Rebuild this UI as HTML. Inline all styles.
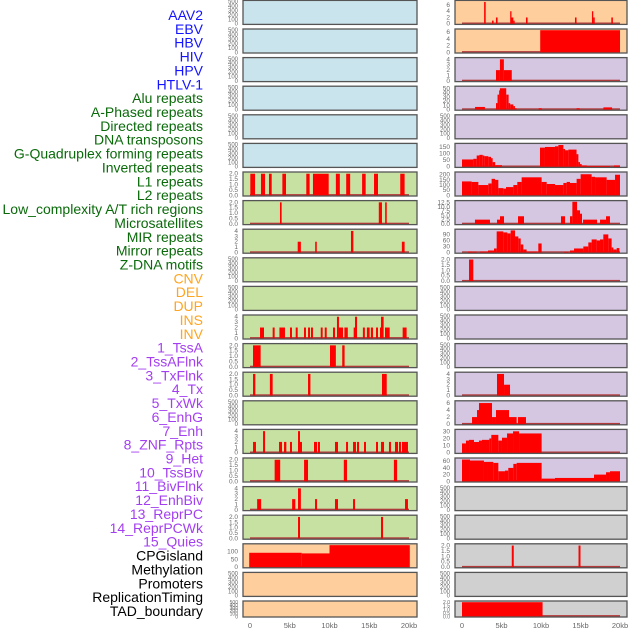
<!DOCTYPE html>
<html><head><meta charset="utf-8"><style>
html,body{margin:0;padding:0;background:#fff;}
svg{display:block;font-family:"Liberation Sans",sans-serif;}
</style></head><body>
<svg id="chart" width="630" height="630" viewBox="0 0 630 630" xmlns="http://www.w3.org/2000/svg">
<g id="labels"></g>
<g id="panels"></g>
<g id="xaxes"></g>
</svg>
<script>
// ---- data (segments: [startKb, endKb, value]) ----
const trackLabels = ["AAV2","EBV","HBV","HIV","HPV","HTLV-1","Alu repeats","A-Phased repeats","Directed repeats","DNA transposons","G-Quadruplex forming repeats","Inverted repeats","L1 repeats","L2 repeats","Low_complexity A/T rich regions","Microsatellites","MIR repeats","Mirror repeats","Z-DNA motifs","CNV","DEL","DUP","INS","INV","1_TssA","2_TssAFlnk","3_TxFlnk","4_Tx","5_TxWk","6_EnhG","7_Enh","8_ZNF_Rpts","9_Het","10_TssBiv","11_BivFlnk","12_EnhBiv","13_ReprPC","14_ReprPCWk","15_Quies","CPGisland","Methylation","Promoters","ReplicationTiming","TAD_boundary"];
const xTickValues = [0,5,10,15,20];
const xTickLabels = ["0","5kb","10kb","15kb","20kb"];
const emptyTicks = [0,100,200,300,400,500];
const ticks2 = [0,0.5,1,1.5,2];
const ticks4 = [0,1,2,3,4];

// left column data
const aluRepeats = [[0.04,0.63,2],[1.38,1.89,2],[2.39,2.73,2],[4.07,4.53,2],[7.08,7.5,2],[7.92,9.9,2],[10.8,11.3,2],[12.1,12.6,2],[14.1,14.55,2],[15.6,16.1,2],[18.9,19.45,2]];
const phasedRepeats = [[3.77,3.98,2],[16.2,16.6,2],[17.0,17.2,2]];
const directedRepeats = [[6.0,6.4,2],[8.2,8.4,2],[12.7,13.0,4],[19.1,19.45,2]];
const invertedRepeats = [[1.26,1.76,2],[2.85,3.1,2],[3.7,4.4,2],[5.03,5.28,2],[5.75,6.0,2],[6.79,7.04,2],[7.3,7.55,2],[7.67,7.92,2],[8.9,9.14,2],[9.4,9.65,2],[10.44,10.69,2],[10.94,11.19,4],[11.19,11.7,2],[11.87,12.3,2],[13.04,13.29,2],[13.21,13.46,4],[14.2,14.45,2],[14.7,15.05,2],[15.2,15.47,2],[15.85,16.1,2],[16.35,16.6,2],[16.48,16.81,4],[16.98,17.57,2],[19.2,19.7,2]];
const l1Repeats = [[0.38,1.34,2],[10.06,10.8,2],[11.6,11.9,2]];
const l2Repeats = [[0.38,0.67,2],[2.5,2.85,2],[7.3,7.6,2],[16.6,17.2,2]];
const microsatellites = [[0.38,0.75,2],[1.64,1.89,4],[3.65,4.03,2],[4.28,4.57,2],[5.03,5.28,2],[6.04,6.54,2],[6.04,6.29,4],[8.05,8.43,2],[8.55,8.8,2],[10.69,11.07,2],[12.08,12.33,2],[12.96,13.33,2],[13.46,13.71,2],[14.34,14.59,2],[15.85,16.1,2],[16.48,16.86,2],[17.48,17.73,2],[18.24,18.62,2],[18.74,18.99,2],[19.12,19.87,2]];
const mirRepeats = [[3.1,3.8,2],[6.8,7.3,2],[11.8,12.2,2],[18.1,18.5,2]];
const mirrorRepeats = [[0.9,1.4,2],[5.3,5.7,2],[6.04,6.4,4],[8.18,8.43,2],[10.69,11.07,2],[12.96,13.21,2],[19.5,19.87,2]];
const zdnaMotifs = [[6.04,6.29,2],[16.48,16.73,2]];
const cnvTrack = [[-0.1,6.5,92],[6.5,10.0,88],[10.0,20.1,141]];
// right column data
const insTrack = [[2.8,3.0,7],[3.8,4.0,1],[4.3,4.5,2],[6.1,6.25,4],[6.25,6.5,2],[6.5,6.65,1],[8.1,8.3,2],[14.3,14.5,2],[16.45,16.6,4],[16.6,16.8,2],[18.9,19.1,2]];
const invTrack = [[9.9,20.0,6.6]];
const tssA = [[4.3,4.8,2],[4.8,5.3,4],[5.3,6.3,2]];
const tssAFlnk = [[1.65,2.9,6],[4.3,4.5,15],[4.5,4.7,35],[4.7,4.8,45],[4.8,5.6,50],[5.6,5.9,35],[5.9,6.1,15],[6.1,6.5,12],[6.5,6.7,8],[6.7,6.9,3],[9.7,10.1,3],[14.5,14.9,3],[17.9,19.0,5]];
const txTrack = [[0,1.43,55],[1.43,1.86,60],[1.86,2.2,85],[2.2,2.62,90],[2.62,2.83,85],[2.83,3.33,80],[3.33,3.67,75],[3.67,3.88,65],[3.88,4.2,35],[4.2,5.06,12],[9.87,10.5,145],[10.5,11.77,150],[11.77,12.2,155],[12.2,12.83,165],[12.83,13.04,135],[13.04,13.46,125],[13.46,14.5,130],[14.5,14.73,95],[14.73,14.94,35],[14.94,15.15,20],[15.15,15.8,10],[15.8,18.73,5],[19.24,20,10]];
const txWk = [[0,1.22,135],[1.22,2.07,130],[2.07,3.33,100],[3.33,3.75,115],[3.75,4.18,160],[4.18,4.6,150],[4.6,5.23,70],[5.23,5.57,65],[5.57,6.5,80],[6.5,7.0,100],[7.0,7.55,130],[7.55,10.08,175],[10.08,10.72,130],[10.72,11.77,110],[11.77,12.83,100],[12.83,13.25,120],[13.25,13.67,130],[13.67,14.51,120],[14.51,15.02,160],[15.02,16.41,205],[16.41,16.84,180],[16.84,18.31,175],[18.31,19.37,150],[19.37,20,200]];
const enhG = [[1.64,3.54,2.5],[4.43,4.81,2.5],[4.81,5.32,4.5],[7.09,7.85,4.5],[12.53,13.04,4.5],[13.67,13.97,4.5],[13.97,14.56,13],[14.56,14.94,8],[14.94,15.19,6],[15.32,17.09,2.5],[17.47,18.23,2.5],[18.23,18.73,4.5]];
const enhTrack = [[0.76,1.27,5],[1.27,1.86,4],[2.28,3.29,5],[3.29,4.05,10],[4.05,4.39,20],[4.39,5.23,105],[5.23,5.74,100],[5.74,6.16,95],[6.16,6.71,110],[6.71,7.13,80],[7.13,7.43,70],[7.43,7.76,40],[7.76,8.18,15],[8.18,9.54,5],[9.66,10.08,45],[12.91,13.46,3],[13.67,14.18,10],[14.18,15.36,20],[15.36,15.99,30],[15.99,16.41,50],[16.41,17.05,65],[17.05,17.47,60],[17.47,17.89,65],[17.89,18.52,90],[18.52,18.94,70],[18.94,19.16,25],[19.16,19.58,15],[19.58,19.92,22]];
const znfRpts = [[0.89,1.43,2]];
const enhBiv = [[4.43,5.32,4],[5.32,6.08,2]];
const reprPC = [[1.27,1.9,2],[1.9,2.15,4],[2.15,3.8,6],[3.8,4.3,2],[4.3,5.95,4],[5.95,6.92,2],[7.09,8.1,2]];
const reprPCWk = [[0,0.5,13],[0.5,0.89,17],[0.89,1.52,18],[1.52,2.15,15],[2.15,2.53,17],[2.53,3.46,18],[3.46,3.71,20],[3.71,4.6,25],[4.6,5.06,17],[5.06,5.7,21],[5.7,6.46,27],[6.46,7.22,30],[7.22,10.08,27]];
const quies = [[0,1.01,65],[1.01,2.78,62],[2.78,3.29,58],[3.29,3.96,58],[3.96,4.6,55],[4.6,5.44,30],[5.44,5.86,32],[5.86,6.5,40],[6.5,6.92,52],[6.92,10.08,55],[10.08,11.77,8],[11.77,16.71,10],[16.71,18.23,20],[18.23,18.73,27],[18.73,20,30]];
const promoters = [[6.3,6.55,2],[14.75,15.0,2]];
const tadBoundary = [[0,10.2,2]];

// ---- layout ----
const COLS = [{x0:243,x1:417,d0:250,d1:409},{x0:455,x1:627,d0:462,d1:620}];
const ROW0 = 0.4, PITCH = 28.6;
const BG = {blue:"#c9e4ec",green:"#c7e1a2",orange:"#fecf9d",purple:"#d5c6e2",grey:"#d0d0d0"};
const LCOL = {blue:"#1414ff",green:"#0a6a0a",orange:"#ffa51f",purple:"#a33ff0",black:"#000"};

const leftPanels = [
 {id:"aav2",bg:"blue",data:null},{id:"ebv",bg:"blue",data:null},{id:"hbv",bg:"blue",data:null},
 {id:"hiv",bg:"blue",data:null},{id:"hpv",bg:"blue",data:null},{id:"htlv-1",bg:"blue",data:null},
 {id:"alu-repeats",bg:"green",data:aluRepeats,yMax:2.05,ticks:ticks2,fmt:1},
 {id:"a-phased-repeats",bg:"green",data:phasedRepeats,yMax:2.05,ticks:ticks2,fmt:1},
 {id:"directed-repeats",bg:"green",data:directedRepeats,yMax:4.1,ticks:ticks4,fmt:0},
 {id:"dna-transposons",bg:"green",data:null},{id:"g-quadruplex-repeats",bg:"green",data:null},
 {id:"inverted-repeats",bg:"green",data:invertedRepeats,yMax:4.1,ticks:ticks4,fmt:0},
 {id:"l1-repeats",bg:"green",data:l1Repeats,yMax:2.05,ticks:ticks2,fmt:1},
 {id:"l2-repeats",bg:"green",data:l2Repeats,yMax:2.05,ticks:ticks2,fmt:1},
 {id:"low-complexity",bg:"green",data:null},
 {id:"microsatellites",bg:"green",data:microsatellites,yMax:4.1,ticks:ticks4,fmt:0},
 {id:"mir-repeats",bg:"green",data:mirRepeats,yMax:2.05,ticks:ticks2,fmt:1},
 {id:"mirror-repeats",bg:"green",data:mirrorRepeats,yMax:4.1,ticks:ticks4,fmt:0},
 {id:"z-dna-motifs",bg:"green",data:zdnaMotifs,yMax:2.05,ticks:ticks2,fmt:1},
 {id:"cnv",bg:"orange",data:cnvTrack,yMax:142,ticks:[0,50,100],fmt:0},
 {id:"del",bg:"orange",data:null},{id:"dup",bg:"orange",data:null}
];
const rightPanels = [
 {id:"ins",bg:"orange",data:insTrack,yMax:7.1,ticks:[0,2,4,6],fmt:0},
 {id:"inv",bg:"orange",data:invTrack,yMax:6.6,ticks:[0,2,4,6],fmt:0},
 {id:"1-tssa",bg:"purple",data:tssA,yMax:4.1,ticks:ticks4,fmt:0},
 {id:"2-tssaflnk",bg:"purple",data:tssAFlnk,yMax:52,ticks:[0,10,20,30,40,50],fmt:0},
 {id:"3-txflnk",bg:"purple",data:null},
 {id:"4-tx",bg:"purple",data:txTrack,yMax:168,ticks:[0,50,100,150],fmt:0},
 {id:"5-txwk",bg:"purple",data:txWk,yMax:215,ticks:[0,50,100,150,200],fmt:0},
 {id:"6-enhg",bg:"purple",data:enhG,yMax:13,ticks:[0,2.5,5,7.5,10,12.5],fmt:1},
 {id:"7-enh",bg:"purple",data:enhTrack,yMax:110,ticks:[0,30,60,90],fmt:0},
 {id:"8-znf-rpts",bg:"purple",data:znfRpts,yMax:2.05,ticks:ticks2,fmt:1},
 {id:"9-het",bg:"purple",data:null},{id:"10-tssbiv",bg:"purple",data:null},{id:"11-bivflnk",bg:"purple",data:null},
 {id:"12-enhbiv",bg:"purple",data:enhBiv,yMax:4.1,ticks:ticks4,fmt:0},
 {id:"13-reprpc",bg:"purple",data:reprPC,yMax:6.3,ticks:[0,2,4,6],fmt:0},
 {id:"14-reprpcwk",bg:"purple",data:reprPCWk,yMax:31,ticks:[0,10,20,30],fmt:0},
 {id:"15-quies",bg:"purple",data:quies,yMax:66,ticks:[0,20,40,60],fmt:0},
 {id:"cpgisland",bg:"grey",data:null},{id:"methylation",bg:"grey",data:null},
 {id:"promoters",bg:"grey",data:promoters,yMax:2.05,ticks:ticks2,fmt:1},
 {id:"replication-timing",bg:"grey",data:null},
 {id:"tad-boundary",bg:"grey",data:tadBoundary,yMax:2.0,ticks:ticks2,fmt:1}
];

const NS="http://www.w3.org/2000/svg";
function mk(tag,attrs,parent){const e=document.createElementNS(NS,tag);for(const k in attrs)e.setAttribute(k,attrs[k]);parent.appendChild(e);return e;}

// labels
const labG=document.getElementById("labels");
trackLabels.forEach((t,i)=>{
  let col = i<6?"blue":i<19?"green":i<24?"orange":i<39?"purple":"black";
  const el=mk("text",{x:203,y:(15+i*13.86+5).toFixed(1),"text-anchor":"end","font-size":"14",fill:LCOL[col]},labG);
  
  
  el.textContent=t;
});

const panG=document.getElementById("panels");
function drawPanel(p,ci,r){
  const C=COLS[ci], T=ROW0+r*PITCH;
  const PH = r===21 ? 16 : 24;
  const g=mk("g",{},panG);
  
  
  const bg=mk("rect",{x:C.x0,y:T,width:C.x1-C.x0,height:PH,fill:BG[p.bg]},g);
  
  
  const yMax=p.data?p.yMax:500, ticks=p.data?p.ticks:emptyTicks;
  const y0=T+PH-0.7, y1=T+1.2;
  const ys=v=>y0-(v/yMax)*(y0-y1);
  const xs=k=>C.d0+(k/20)*(C.d1-C.d0);
  const fs = PH<20 ? "5" : (p.data?"6.5":"6");
  ticks.forEach(v=>{
    const tl=mk("text",{x:C.x0-5,y:(ys(v)+2).toFixed(1),"text-anchor":"end","font-size":fs,fill:"#6a6a6a"},g);
    
    
    tl.textContent=p.fmt?v.toFixed(1):String(v);
  });
  if(p.data){
    const bl=mk("rect",{x:xs(0),y:y0-1.2,width:xs(20)-xs(0),height:1.6,fill:"#b33a3a"},g);
    
    
    p.data.forEach(s=>{
      const x=Math.max(xs(s[0]),C.x0+1), xe=Math.min(xs(s[1]),C.x1-1);
      const yt=Math.max(ys(s[2]),T+0.8);
      const b=mk("rect",{x:x.toFixed(2),y:yt.toFixed(2),width:Math.max(xe-x,1.3).toFixed(2),height:(y0+0.4-yt).toFixed(2),fill:"#ff0000"},g);
      
      
    });
  }
  const fr=mk("rect",{x:C.x0,y:T,width:C.x1-C.x0,height:PH,fill:"none",stroke:"#555","stroke-width":"1.3"},g);
  
  
}
leftPanels.forEach((p,r)=>drawPanel(p,0,r));
rightPanels.forEach((p,r)=>drawPanel(p,1,r));

const xg=document.getElementById("xaxes");
COLS.forEach((C,ci)=>{
  xTickValues.forEach((v,i)=>{
    const t=mk("text",{x:(C.d0+(v/20)*(C.d1-C.d0)).toFixed(1),y:628,"text-anchor":"middle","font-size":"7.5",fill:"#666"},xg);
    
    
    t.textContent=xTickLabels[i];
  });
});
</script>
</body></html>
